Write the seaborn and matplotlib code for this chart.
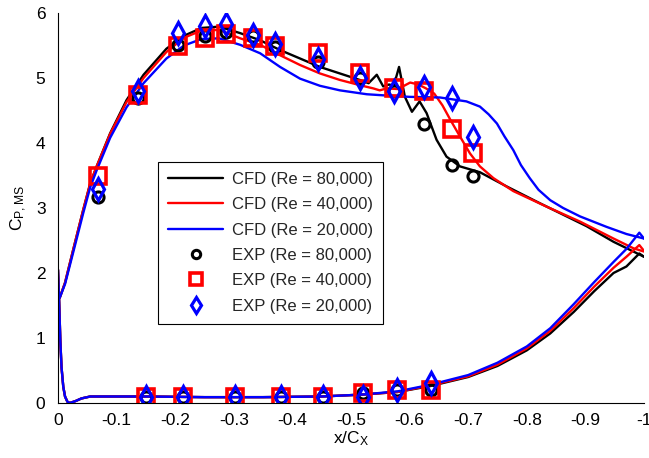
import matplotlib
matplotlib.use("Agg")
import matplotlib.pyplot as plt
import seaborn as sns
import pandas as pd

# ---------------- CFD, suction side ----------------
ss80_x = [0.0, 0.003, 0.012, 0.026, 0.043, 0.055, 0.066, 0.089, 0.117, 0.146, 0.185, 0.215, 0.245,
          0.275, 0.311, 0.345, 0.379, 0.413, 0.447, 0.481, 0.515, 0.530, 0.544, 0.555, 0.565,
          0.573, 0.582, 0.592, 0.604, 0.617, 0.629, 0.646, 0.663, 0.686, 0.720, 0.766, 0.823,
          0.902, 0.948, 0.982, 1.0]
ss80_y = [1.62, 1.62, 1.85, 2.36, 2.97, 3.38, 3.64, 4.15, 4.66, 5.05, 5.45, 5.65, 5.77,
          5.79, 5.69, 5.58, 5.43, 5.30, 5.17, 5.07, 4.97, 4.92, 5.05, 4.87, 4.90,
          4.88, 5.17, 4.71, 4.48, 4.64, 4.46, 4.05, 3.79, 3.64, 3.55, 3.33, 3.07,
          2.72, 2.48, 2.33, 2.25]

ss40_x = [0.0, 0.003, 0.012, 0.026, 0.043, 0.055, 0.066, 0.089, 0.117, 0.146, 0.185, 0.215, 0.245,
          0.275, 0.311, 0.345, 0.379, 0.413, 0.447, 0.481, 0.515, 0.538, 0.549, 0.561, 0.580,
          0.601, 0.615, 0.628, 0.642, 0.656, 0.670, 0.686, 0.703, 0.720, 0.743, 0.777, 0.834,
          0.891, 0.948, 0.982, 1.0]
ss40_y = [1.62, 1.62, 1.85, 2.36, 2.97, 3.38, 3.64, 4.14, 4.63, 5.00, 5.40, 5.62, 5.73,
          5.74, 5.61, 5.51, 5.35, 5.20, 5.07, 4.97, 4.89, 4.84, 4.81, 4.84, 4.83,
          4.93, 4.90, 4.84, 4.76, 4.58, 4.35, 4.10, 3.84, 3.64, 3.46, 3.26, 3.02,
          2.79, 2.53, 2.38, 2.33]

ss20_x = [0.0, 0.003, 0.012, 0.026, 0.043, 0.055, 0.066, 0.089, 0.117, 0.146, 0.185, 0.215, 0.245,
          0.275, 0.311, 0.345, 0.379, 0.413, 0.447, 0.481, 0.527, 0.561, 0.60, 0.652, 0.697,
          0.720, 0.735, 0.749, 0.762, 0.777, 0.790, 0.805, 0.820, 0.840, 0.862, 0.891, 0.936,
          0.970, 1.0]
ss20_y = [1.62, 1.62, 1.83, 2.32, 2.92, 3.32, 3.58, 4.08, 4.55, 4.92, 5.30, 5.50, 5.60,
          5.61, 5.51, 5.38, 5.17, 4.99, 4.88, 4.81, 4.75, 4.73, 4.71, 4.70, 4.64,
          4.56, 4.44, 4.30, 4.10, 3.89, 3.66, 3.46, 3.28, 3.12, 3.00, 2.87, 2.71,
          2.60, 2.53]

# ---------------- CFD, pressure side ----------------
ps_x = [0.0, 0.002, 0.004, 0.006, 0.009, 0.012, 0.016, 0.020, 0.030, 0.040, 0.055, 0.080,
        0.150, 0.250, 0.350, 0.450, 0.520, 0.580, 0.635, 0.700, 0.750, 0.800, 0.840, 0.880,
        0.915, 0.948, 0.970, 0.992, 1.0]
ps80_y = [2.05, 1.55, 0.95, 0.55, 0.25, 0.10, 0.02, 0.0, 0.03, 0.07, 0.10, 0.10,
          0.10, 0.09, 0.09, 0.10, 0.13, 0.17, 0.26, 0.40, 0.57, 0.81, 1.07, 1.40,
          1.72, 2.00, 2.10, 2.30, 2.25]
ps40_y = [2.05, 1.55, 0.95, 0.55, 0.25, 0.10, 0.02, 0.0, 0.03, 0.07, 0.10, 0.10,
          0.10, 0.09, 0.09, 0.10, 0.13, 0.17, 0.27, 0.41, 0.59, 0.84, 1.11, 1.46,
          1.79, 2.08, 2.25, 2.43, 2.34]
ps20_y = [2.05, 1.55, 0.95, 0.55, 0.25, 0.10, 0.02, 0.0, 0.03, 0.07, 0.10, 0.10,
          0.10, 0.09, 0.09, 0.10, 0.13, 0.18, 0.28, 0.43, 0.62, 0.87, 1.15, 1.52,
          1.86, 2.17, 2.37, 2.62, 2.53]

# ---------------- Experiments ----------------
exp_ss_x = [0.068, 0.136, 0.204, 0.251, 0.287, 0.333, 0.370, 0.444, 0.516, 0.573, 0.625, 0.673, 0.709]
exp80_ss = [3.17, 4.69, 5.51, 5.64, 5.71, 5.64, 5.48, 5.25, 5.00, 4.80, 4.30, 3.66, 3.49]
exp40_ss = [3.49, 4.74, 5.49, 5.62, 5.68, 5.62, 5.50, 5.38, 5.07, 4.84, 4.80, 4.21, 3.84]
exp20_ss = [3.30, 4.80, 5.70, 5.80, 5.83, 5.66, 5.52, 5.30, 5.00, 4.80, 4.86, 4.70, 4.10]

exp_ps_x = [0.151, 0.214, 0.302, 0.381, 0.453, 0.521, 0.579, 0.636]
exp80_ps = [0.10, 0.10, 0.09, 0.10, 0.10, 0.15, 0.20, 0.20]
exp40_ps = [0.10, 0.10, 0.10, 0.10, 0.10, 0.15, 0.20, 0.20]
exp20_ps = [0.10, 0.10, 0.09, 0.09, 0.10, 0.10, 0.20, 0.31]

labels_cfd = ["CFD (Re = 80,000)", "CFD (Re = 40,000)", "CFD (Re = 20,000)"]
labels_exp = ["EXP (Re = 80,000)", "EXP (Re = 40,000)", "EXP (Re = 20,000)"]
xtick_vals = [0, 0.1, 0.2, 0.3, 0.4, 0.5, 0.6, 0.7, 0.8, 0.9, 1.0]
xtick_labels = ["0", "-0.1", "-0.2", "-0.3", "-0.4", "-0.5", "-0.6", "-0.7", "-0.8", "-0.9", "-1"]
ytick_vals = [0, 1, 2, 3, 4, 5, 6]

sns.set_theme(style="white")
plt.rcParams["font.family"] = ["Liberation Sans", "DejaVu Sans"]
plt.rcParams["mathtext.fontset"] = "custom"
plt.rcParams["mathtext.rm"] = "Liberation Sans"
plt.rcParams["mathtext.it"] = "Liberation Sans"

fig = plt.figure(figsize=(6.49, 4.58), dpi=100)
ax = fig.add_axes([58 / 649, 1 - 403 / 458, 586 / 649, 390 / 458])

colors = ["black", "#ff0000", "#0000ff"]
lw = 1.7

ss = [(ss80_x, ss80_y), (ss40_x, ss40_y), (ss20_x, ss20_y)]
ps = [ps80_y, ps40_y, ps20_y]
for (sx, sy), py, c, lab in zip(ss, ps, colors, labels_cfd):
    sns.lineplot(x=sx, y=sy, sort=False, estimator=None, color=c, lw=lw, ax=ax, label=lab)
    sns.lineplot(x=ps_x, y=py, sort=False, estimator=None, color=c, lw=lw, ax=ax, label="_nolegend_")

mk = [("o", 8, 2.2), ("s", 11, 2.6), ("d", 11, 2.3)]
exps = [(exp80_ss, exp80_ps), (exp40_ss, exp40_ps), (exp20_ss, exp20_ps)]
for (es, ep), c, (m, ms, mew), lab in zip(exps, colors, mk, labels_exp):
    sns.lineplot(x=exp_ss_x, y=es, sort=False, estimator=None, ax=ax, label=lab,
                 linestyle="", marker=m, markersize=ms, markerfacecolor="none",
                 markeredgecolor=c, markeredgewidth=mew, color=c)
    sns.lineplot(x=exp_ps_x, y=ep, sort=False, estimator=None, ax=ax, label="_nolegend_",
                 linestyle="", marker=m, markersize=ms, markerfacecolor="none",
                 markeredgecolor=c, markeredgewidth=mew, color=c)

ax.set_xlim(0, 1)
ax.set_ylim(0, 6)
ax.set_xticks(xtick_vals)
ax.set_xticklabels(xtick_labels)
ax.set_yticks(ytick_vals)
ax.tick_params(direction="in", length=5, width=0.8, colors="black", labelsize=12.5)
ax.tick_params(axis="x", pad=7)
ax.tick_params(axis="y", pad=9)
for s in ["top", "right"]:
    ax.spines[s].set_visible(False)
for s in ["left", "bottom"]:
    ax.spines[s].set_color("black")
    ax.spines[s].set_linewidth(0.8)

ax.set_xlabel(r"x/C$_\mathregular{X}$", fontsize=12.5, color="black", labelpad=1)
ax.set_ylabel(r"C$_\mathregular{P,MS}$", fontsize=12.5, color="black", labelpad=5)

leg = ax.legend(loc="upper left", bbox_to_anchor=(0.171, 0.618), frameon=True, fancybox=False,
                edgecolor="black", fontsize=12, handlelength=3.3, handletextpad=0.5,
                labelspacing=0.62, borderpad=0.6, borderaxespad=0, markerscale=0.75,
                framealpha=1)
leg.get_frame().set_linewidth(0.8)

fig.savefig("out.png", dpi=100)
